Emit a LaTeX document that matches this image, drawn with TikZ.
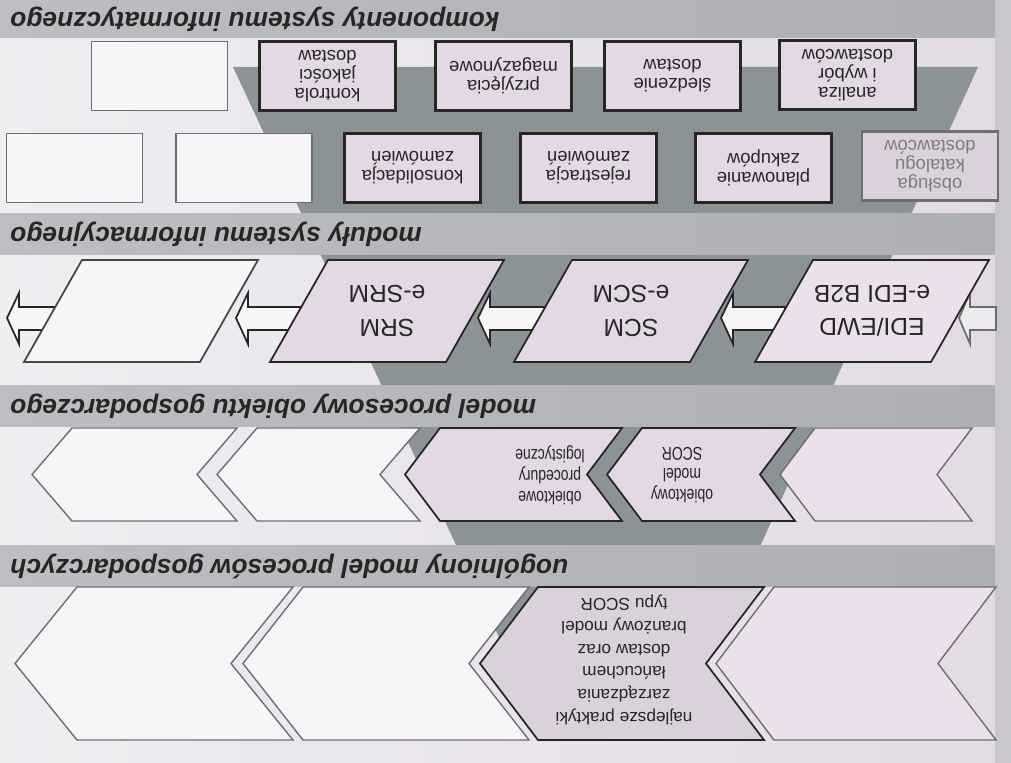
\documentclass[tikz,border=0pt]{standalone}
\usepackage{fontspec}
\setmainfont{Liberation Sans}
\newfontfamily\narrowsans{Liberation Sans}[FakeStretch=0.76]
\usetikzlibrary{calc}

\definecolor{bgL}{HTML}{EFEEF1}
\definecolor{bgR}{HTML}{E2DBE4}
\definecolor{edgestrip}{HTML}{C9C7CC}
\definecolor{bandL}{HTML}{BDBEC2}
\definecolor{bandR}{HTML}{AEAFB3}
\definecolor{funnel}{HTML}{8C9395}
\definecolor{pinkbox}{HTML}{E4D8E6}
\definecolor{pinkgray}{HTML}{DBD1DC}
\definecolor{lightpink}{HTML}{ECE0EC}
\definecolor{whitebox}{HTML}{F6F5F7}
\definecolor{ink}{HTML}{262626}
\definecolor{softline}{HTML}{6E6E72}

\begin{document}
\begin{tikzpicture}[x=0.02cm, y=-0.02cm,
  htext/.style={rotate=180, anchor=east, inner sep=0pt, text=ink,
    font=\bfseries\itshape\fontsize{15}{18}\selectfont},
  compbox/.style={rotate=180, draw=ink, line width=1.2pt, fill=pinkbox,
    minimum width=2.72cm, minimum height=1.38cm, align=center, inner sep=1pt,
    text=ink, font=\fontsize{10.5}{10.8}\selectfont},
  blankbox/.style={compbox, draw=softline, line width=0.9pt, fill=whitebox},
  paralabel/.style={rotate=180, align=center, text=ink, inner sep=0pt,
    font=\fontsize{14}{19}\selectfont},
  chevlabel/.style={rotate=180, align=center, text=ink, inner sep=0pt,
    font=\narrowsans\fontsize{10.5}{12}\selectfont},
  bigchevlabel/.style={rotate=180, align=center, text=ink, inner sep=0pt,
    font=\fontsize{9.8}{13}\selectfont},
  paradark/.style={draw=ink, line width=1pt, fill=pinkbox},
  paralight/.style={draw=ink!85, line width=1pt, fill=whitebox},
  blockarrow/.style={draw=ink, line width=1pt, fill=whitebox, line join=miter},
  chevpink/.style={draw=ink, line width=1pt, fill=pinkbox},
  chevwhite/.style={draw=softline, line width=0.8pt, fill=whitebox},
]
\useasboundingbox (0,0) rectangle (1011,763);

% page background
\shade[left color=bgL, right color=bgR] (0,0) rectangle (1011,763);
\fill[edgestrip] (995,0) rectangle (1011,763);

% the funnel running through all layers
\fill[funnel] (233,67) -- (978,67) -- (672,740) -- (547,740) -- cycle;

% layer title bands
\foreach \ya/\yb in {0/38, 214/255, 386/427, 545/586}
  \shade[left color=bandL, right color=bandR] (0,\ya) rectangle (995,\yb);

\node[htext] (t1) at (10,19)  {komponenty systemu informatycznego};
\node[htext] (t2) at (10,234) {moduły systemu informacyjnego};
\node[htext] (t3) at (10,406) {model procesowy obiektu gospodarczego};
\node[htext] (t4) at (10,566) {uogólniony model procesów gospodarczych};

% ---- layer 1: components ----
\node[blankbox] (a0) at (159.5,76) {};
\node[compbox]  (a1) at (327.5,76) {kontrola\\jakości\\dostaw};
\node[compbox]  (a2) at (503.5,76) {przyjęcia\\magazynowe};
\node[compbox]  (a3) at (672.5,76) {śledzenie\\dostaw};
\node[compbox]  (a4) at (847.5,75) {analiza\\i wybór\\dostawców};

\node[blankbox] (b0) at (74.5,168) {};
\node[blankbox] (b1) at (244,168) {};
\node[compbox]  (b2) at (412.5,168) {konsolidacja\\zamówień};
\node[compbox]  (b3) at (588.5,168) {rejestracja\\zamówień};
\node[compbox]  (b4) at (763.5,168) {planowanie\\zakupów};
\node[compbox, fill=pinkgray, draw=softline, text=ink!60] (b5) at (930,166)
  {obsługa\\katalogu\\dostawców};

% ---- layer 2: modules ----
% block arrows (drawn first so the parallelograms overlap their tails)
\foreach \t/\e in {7/60, 236/300, 478/545, 721/785}
  \draw[blockarrow] (\t,318) -- (\t+12,293) -- (\t+12,307) -- (\e,307)
    -- (\e,330) -- (\t+12,330) -- (\t+12,344) -- cycle;
\draw[blockarrow, draw=softline, fill=whitebox!60!bgR] (959,318) -- (970,293)
  -- (970,307) -- (996,307) -- (996,330) -- (970,330) -- (970,344) -- cycle;

\draw[paralight] (82,260) -- ++(176,0) -- ++(-58,102) -- ++(-176,0) -- cycle;
\draw[paradark]  (328,260) -- ++(176,0) -- ++(-58,102) -- ++(-176,0) -- cycle;
\draw[paradark]  (572,260) -- ++(176,0) -- ++(-58,102) -- ++(-176,0) -- cycle;
\draw[paradark, fill=lightpink] (813,260) -- ++(176,0) -- ++(-58,102) -- ++(-176,0) -- cycle;

\node[paralabel] (srm) at (387,311) {SRM\\e-SRM};
\node[paralabel] (scm) at (631,311) {SCM\\e-SCM};
\node[paralabel] (edi) at (872,311) {EDI/EWD\\e-EDI B2B};

% ---- layer 3: process model of the enterprise ----
\newcommand{\chevpath}[5]{% xL, xR, top, bottom, depth
  (#1,#3) -- (#2,#3) -- ({#2-#5},{(#3+#4)/2}) -- (#2,#4) -- (#1,#4)
  -- ({#1-#5},{(#3+#4)/2}) -- cycle}

\draw[chevwhite] \chevpath{72}{237}{428}{521}{40};
\draw[chevwhite] \chevpath{257}{420}{428}{521}{40};
\draw[chevpink]  \chevpath{440}{622}{428}{521}{35};
\draw[chevpink]  \chevpath{642}{795}{428}{521}{35};
\draw[chevwhite, fill=lightpink] \chevpath{815}{972}{428}{521}{35};

\node[chevlabel] (proc) at (550,475) {obiektowe\\procedury\\logistyczne};
\node[chevlabel] (scor) at (682,475) {obiektowy\\model\\SCOR};

% ---- layer 4: generic business process model ----
\draw[chevwhite] \chevpath{77}{293}{587}{740}{62};
\draw[chevwhite] \chevpath{303}{529}{587}{740}{60};
\draw[chevpink, fill=pinkgray] \chevpath{538}{764}{587}{740}{58};
\draw[chevwhite, fill=lightpink] \chevpath{774}{996}{587}{740}{58};

\node[bigchevlabel] (best) at (624,660)
  {najlepsze praktyki\\zarządzania\\łańcuchem\\dostaw oraz\\branżowy model\\typu SCOR};
\end{tikzpicture}
\end{document}
